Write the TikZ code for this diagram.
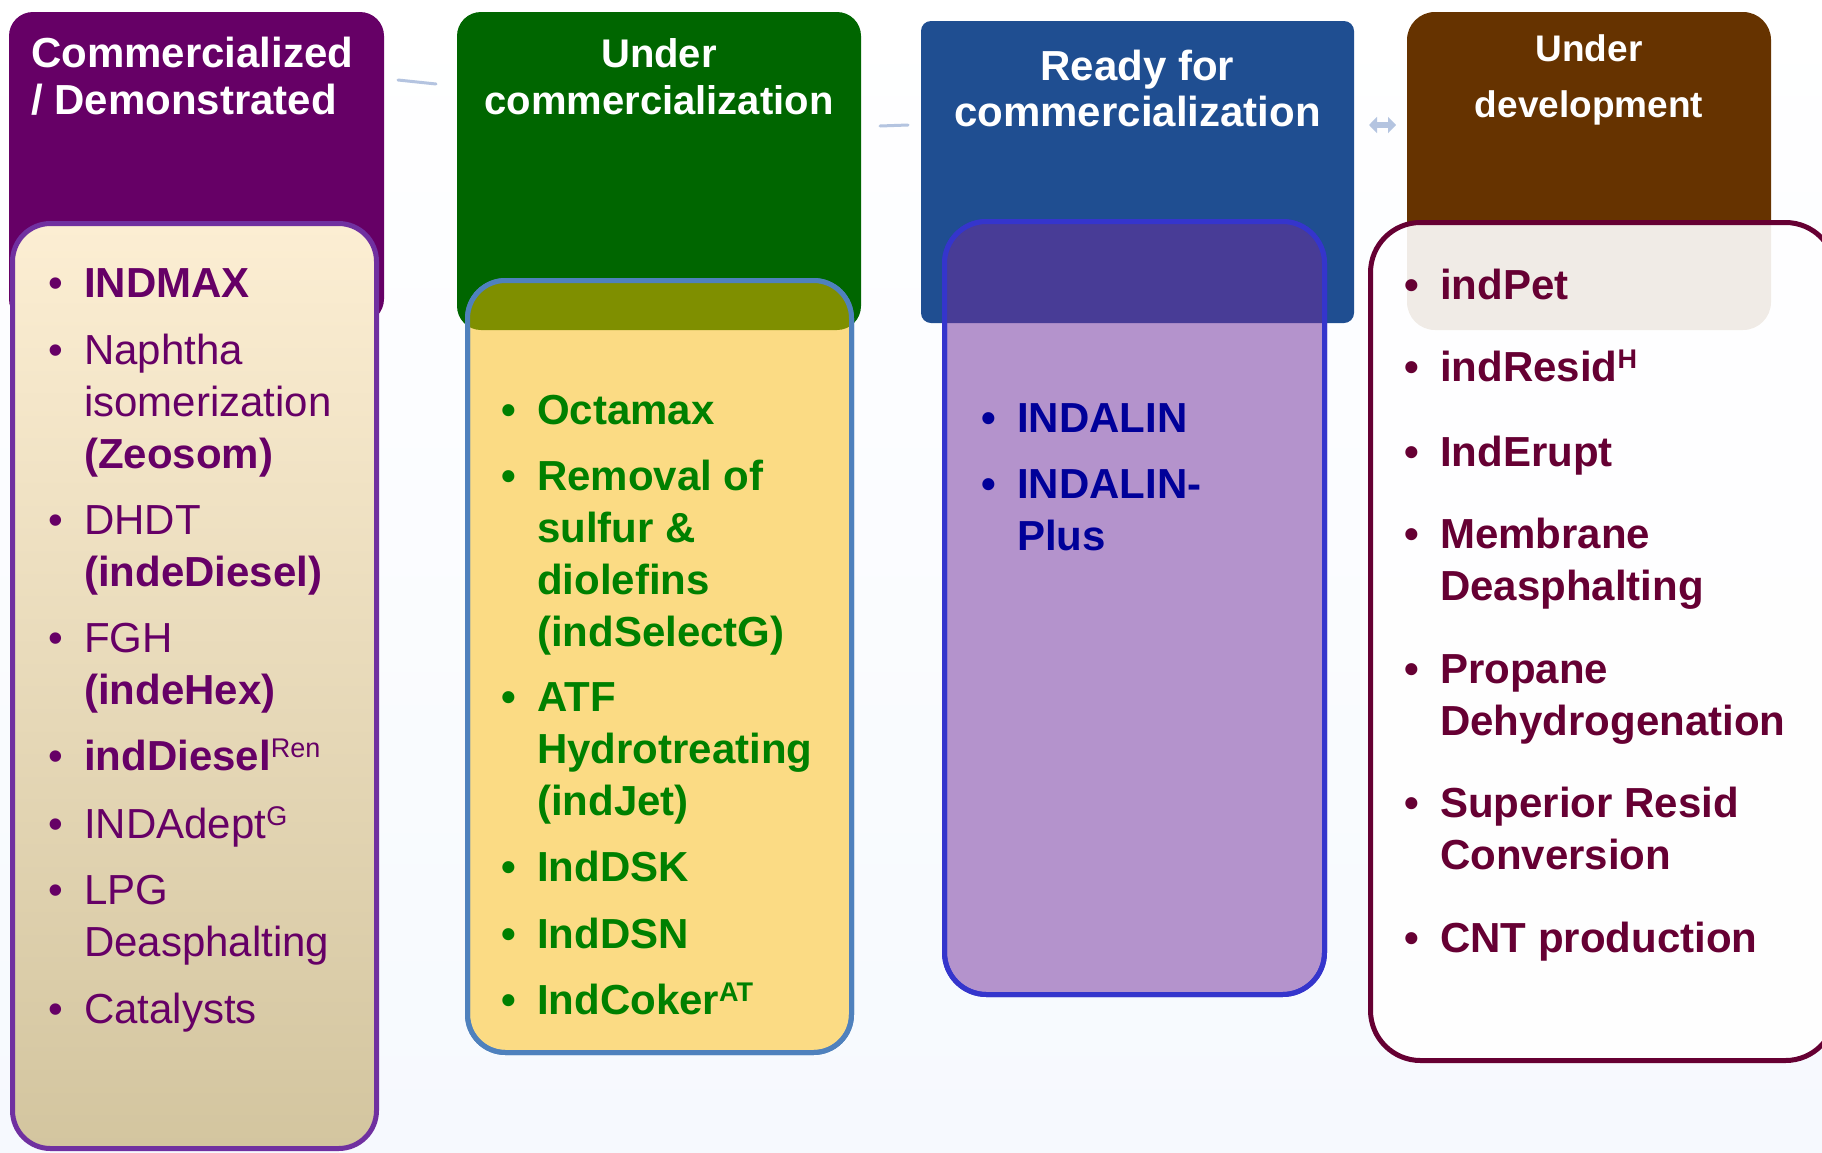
\documentclass[tikz,border=0pt]{standalone}
\usepackage{fontspec}
\setmainfont{Liberation Sans}
\usetikzlibrary{arrows.meta}

% stage colours
\definecolor{commPurple}{HTML}{660066}
\definecolor{undGreen}{HTML}{006600}
\definecolor{readyBlue}{HTML}{1F4E91}
\definecolor{devBrown}{HTML}{663300}
\definecolor{creamTop}{HTML}{FCEED3}
\definecolor{creamBot}{HTML}{D3C59F}
\definecolor{listPurple}{HTML}{7030A0}
\definecolor{goldFill}{HTML}{FBDB84}
\definecolor{goldEdge}{HTML}{4F81BD}
\definecolor{oliveMix}{HTML}{7F8F00}
\definecolor{lavFill}{HTML}{B493CC}
\definecolor{lavEdge}{HTML}{3535CC}
\definecolor{lavMix}{HTML}{483C96}
\definecolor{devMaroon}{HTML}{660033}
\definecolor{textGreen}{HTML}{008000}
\definecolor{textBlue}{HTML}{000099}
\definecolor{linkGrey}{HTML}{B4C4E0}
\definecolor{bgTint}{HTML}{F6F9FE}

% one bullet entry, first line on the node's baseline
\newcommand{\entry}[1]{\begin{tabular}[t]{@{}p{36pt}@{}l@{}}\textbullet&#1\end{tabular}}
\newcommand{\sups}[1]{\raisebox{0.3em}{\fontsize{27}{27}\selectfont #1}}
\newcommand{\twolines}[1]{\begin{tabular}[t]{@{}c@{}}#1\end{tabular}}

\begin{document}
\begin{tikzpicture}[
    x = 1pt, y = -1pt,
    header/.style = {
        rectangle,
        rounded corners = 24pt,
        minimum width = #1,
        inner sep = 0pt,
        outer sep = 0pt,
        anchor = north west
    },
    listbox/.style = {
        rectangle,
        rounded corners = 38pt,
        line width = 5pt,
        inner sep = 0pt,
        outer sep = 0pt,
        anchor = north west
    },
    headtext/.style = {
        anchor = base,
        inner sep = 0pt,
        text = white,
        font = {\fontsize{40}{47}\selectfont\bfseries}
    },
    bulletitem/.style = {
        anchor = base west,
        inner sep = 0pt,
        font = {\fontsize{42}{52}\selectfont}
    },
    link/.style = {
        linkGrey,
        line width = 3pt,
        line cap = round
    }
]

    \useasboundingbox (0,0) rectangle (1822,1152);
    \clip (0,0) rectangle (1822,1152);
    \fill [top color = white, bottom color = bgTint] (0,0) rectangle (1822,1152);

    % Stage headers
    \node [header = 375pt, fill = commPurple, minimum height = 311pt] (hd1) at (9,12) {};
    \node [header = 404pt, fill = undGreen, minimum height = 318pt] (hd2) at (457,12) {};
    \node [header = 433pt, fill = readyBlue, minimum height = 302pt, rounded corners = 10pt] (hd3) at (921,21) {};
    \node [header = 364pt, fill = devBrown, minimum height = 318pt, rounded corners = 28pt] (hd4) at (1407,12) {};

    % List boxes
    \node [listbox, draw = listPurple, top color = creamTop, bottom color = creamBot,
           minimum width = 364pt, minimum height = 925pt] (ls1) at (12.5,223.5) {};
    \node [listbox, draw = goldEdge, fill = goldFill,
           minimum width = 384pt, minimum height = 772pt] (ls2) at (467.5,280.5) {};
    \node [listbox, draw = lavEdge, fill = lavFill, rounded corners = 42pt,
           minimum width = 380pt, minimum height = 773pt] (ls3) at (944.5,221.5) {};
    \node [listbox, draw = devMaroon, fill = white, fill opacity = 0.9, rounded corners = 50pt,
           minimum width = 465pt, minimum height = 838pt] (ls4) at (1370.5,222.5) {};

    % Where header and list box overlap
    \begin{scope}
        \clip [rounded corners = 38pt] (ls2.north west) rectangle (ls2.south east);
        \fill [oliveMix, rounded corners = 24pt] (hd2.north west) rectangle (hd2.south east);
    \end{scope}
    \draw [goldEdge, line width = 5pt, rounded corners = 38pt] (ls2.north west) rectangle (ls2.south east);
    \begin{scope}
        \clip [rounded corners = 42pt] (ls3.north west) rectangle (ls3.south east);
        \fill [lavMix, rounded corners = 10pt] (hd3.north west) rectangle (hd3.south east);
    \end{scope}
    \draw [lavEdge, line width = 5pt, rounded corners = 42pt] (ls3.north west) rectangle (ls3.south east);

    % Header titles
    \node [headtext, anchor = base west, font = {\fontsize{42}{47}\selectfont\bfseries}] (tt1)
        at ([xshift = 22pt, yshift = -55pt]hd1.north west)
        {\begin{tabular}[t]{@{}l@{}}Commercialized\\/ Demonstrated\end{tabular}};
    \node [headtext] (tt2) at ([yshift = -55pt]hd2.north) {\twolines{Under\\commercialization}};
    \node [headtext, font = {\fontsize{42}{46}\selectfont\bfseries}] (tt3) at ([yshift = -59pt]hd3.north)
        {\twolines{Ready for\\commercialization}};
    \node [headtext, font = {\fontsize{37}{56}\selectfont\bfseries}] (tt4) at ([yshift = -49pt]hd4.north)
        {\twolines{Under\\development}};

    % Commercialized / demonstrated
    \begin{scope}[every node/.style = {bulletitem, text = commPurple}]
        \node (a1) at (48,297) {\entry{\textbf{INDMAX}}};
        \node (a2) at (48,364) {\entry{Naphtha\\&isomerization\\&\textbf{(Zeosom)}}};
        \node (a3) at (48,534) {\entry{DHDT\\&\textbf{(indeDiesel)}}};
        \node (a4) at (48,652) {\entry{FGH\\&\textbf{(indeHex)}}};
        \node (a5) at (48,770) {\entry{\textbf{indDiesel}\sups{Ren}}};
        \node (a6) at (48,838) {\entry{INDAdept\sups{G}}};
        \node (a7) at (48,904) {\entry{LPG\\&Deasphalting}};
        \node (a8) at (48,1023) {\entry{Catalysts}};
    \end{scope}

    % Under commercialization
    \begin{scope}[every node/.style = {bulletitem, text = textGreen, font = {\fontsize{42}{52}\selectfont\bfseries}}]
        \node (b1) at (501,424) {\entry{Octamax}};
        \node (b2) at (501,490) {\entry{Removal of\\&sulfur \&\\&diolefins\\&(indSelectG)}};
        \node (b3) at (501,711) {\entry{ATF\\&Hydrotreating\\&(indJet)}};
        \node (b4) at (501,881) {\entry{IndDSK}};
        \node (b5) at (501,948) {\entry{IndDSN}};
        \node (b6) at (501,1014) {\entry{IndCoker\sups{AT}}};
    \end{scope}

    % Ready for commercialization
    \begin{scope}[every node/.style = {bulletitem, text = textBlue, font = {\fontsize{42}{52}\selectfont\bfseries}}]
        \node (c1) at (981,432) {\entry{INDALIN}};
        \node (c2) at (981,498) {\entry{INDALIN-\\&Plus}};
    \end{scope}

    % Under development
    \begin{scope}[every node/.style = {bulletitem, text = devMaroon, font = {\fontsize{42}{52}\selectfont\bfseries}}]
        \node (d1) at (1404,299) {\entry{indPet}};
        \node (d2) at (1404,381) {\entry{indResid\sups{H}}};
        \node (d3) at (1404,466) {\entry{IndErupt}};
        \node (d4) at (1404,548) {\entry{Membrane\\&Deasphalting}};
        \node (d5) at (1404,683) {\entry{Propane\\&Dehydrogenation}};
        \node (d6) at (1404,817) {\entry{Superior Resid\\&Conversion}};
        \node (d7) at (1404,952) {\entry{CNT production}};
    \end{scope}

    % Links between stages
    \coordinate (lk1a) at (398,80);
    \coordinate (lk1b) at (436,84);
    \coordinate (lk2a) at (880,126);
    \coordinate (lk2b) at (908,125);
    \coordinate (lk3a) at (1369,125);
    \coordinate (lk3b) at (1396,125);
    \draw [link] (lk1a) -- (lk1b);
    \draw [link] (lk2a) -- (lk2b);
    \draw [linkGrey, line width = 6pt,
           {Triangle[length = 8pt, width = 16pt]}-{Triangle[length = 8pt, width = 16pt]}] (lk3a) -- (lk3b);

\end{tikzpicture}
\end{document}
